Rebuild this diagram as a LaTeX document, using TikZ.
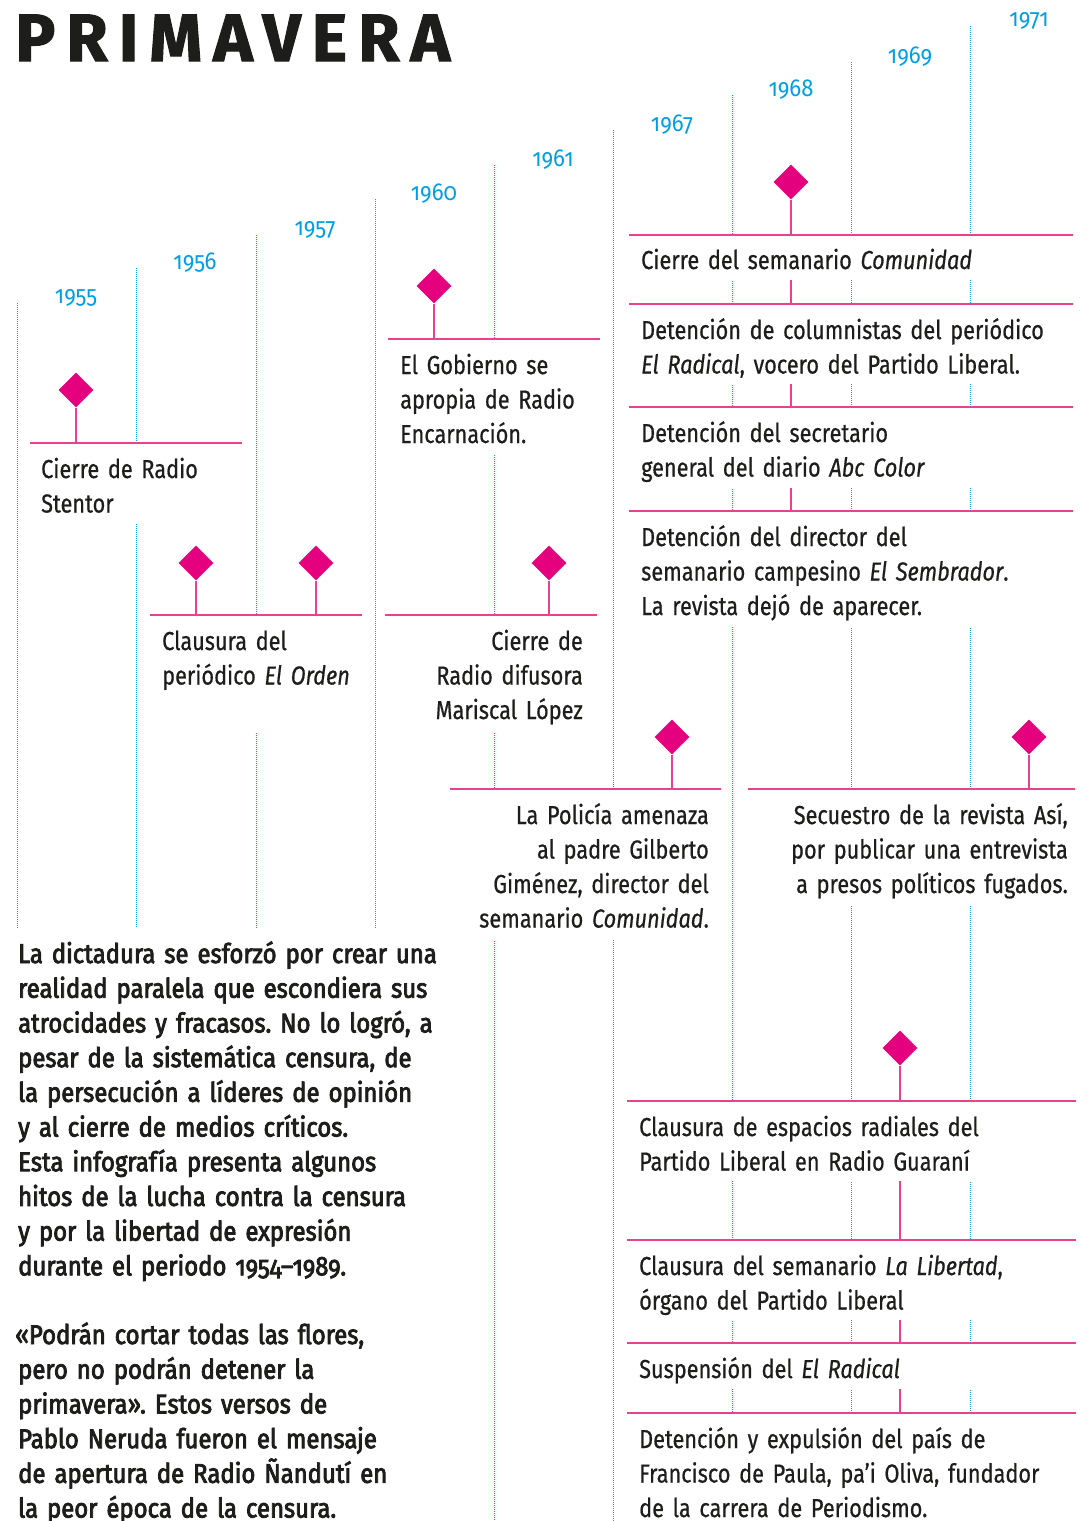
\documentclass[tikz,border=0pt]{standalone}
\usepackage{fontspec}
\setmainfont{Fira Sans}[FakeStretch=0.835, FakeBold=0.6, Numbers=OldStyle]
\newfontfamily\titlefont{Fira Sans}[LetterSpace=16.5, FakeBold=1.5]
\newfontfamily\leadfont{Fira Sans}[FakeStretch=0.885, FakeBold=3, Numbers=OldStyle]
\newfontfamily\yearfont{Fira Sans}[FakeStretch=0.9, Numbers=OldStyle]
\frenchspacing
\usepackage{tikz}
\usetikzlibrary{positioning}
\usetikzlibrary{calc}
\usetikzlibrary{shapes.geometric}
\definecolor{inkgray}{HTML}{1D1D1B}
\definecolor{yearblue}{HTML}{009FE3}
\definecolor{hitopink}{HTML}{E5007D}
\definecolor{rulepink}{HTML}{E8418F}
\tikzstyle{guide} = [draw=yearblue, line width=1pt, dash pattern=on 1pt off 1pt]
\tikzstyle{rule} = [draw=rulepink, line width=1.8pt]
\tikzstyle{stem} = [draw=rulepink, line width=1.8pt]
\tikzstyle{hito} = [diamond, fill=hitopink, inner sep=0pt, minimum width=35pt, minimum height=35pt]
\tikzstyle{mask} = [fill=white, inner sep=0pt, outer sep=0pt, anchor=north west]
\tikzstyle{year} = [text=yearblue, inner sep=0pt, font=\yearfont\fontsize{24.5}{24.5}\selectfont]
\tikzstyle{evtxt} = [text=inkgray, inner sep=0pt, text width=480pt, font=\fontsize{26}{34.5}\selectfont]
\tikzstyle{evleft} = [evtxt, align=left, anchor=base west]
\tikzstyle{evright} = [evtxt, align=right, anchor=base east]
\tikzstyle{lead} = [text=inkgray, inner sep=0pt, text width=440pt, align=left, anchor=base west, font=\leadfont\fontsize{27}{34.7}\selectfont]

\begin{document}
\begin{tikzpicture}[x=1pt,y=-1pt]
    \useasboundingbox (0,0) rectangle (1081,1521);
    % year guides
    \coordinate (low) at (0,928);
    \coordinate (bot) at (0,1521);
    \coordinate (g1) at (17,303);
    \coordinate (g2) at (136,268);
    \coordinate (g3) at (256,235);
    \coordinate (g4) at (375,199);
    \coordinate (g5) at (494,165);
    \coordinate (g6) at (613,130);
    \coordinate (g7) at (732,95);
    \coordinate (g8) at (851,62);
    \coordinate (g9) at (970,26);
    \draw [guide] (g1) -- (g1 |- low);
    \draw [guide] (g2) -- (g2 |- low);
    \draw [guide] (g3) -- (g3 |- low);
    \draw [guide] (g4) -- (g4 |- low);
    \draw [guide] (g5) -- (g5 |- bot);
    \draw [guide] (g6) -- (g6 |- bot);
    \draw [guide] (g7) -- (g7 |- bot);
    \draw [guide] (g8) -- (g8 |- bot);
    \draw [guide] (g9) -- (g9 |- bot);

    \node [year] (y1955) at ($(g1)+(59,-5)$) {1955};
    \node [year] (y1956) at ($(g2)+(59,-5)$) {1956};
    \node [year] (y1957) at ($(g3)+(59,-5)$) {1957};
    \node [year] (y1960) at ($(g4)+(59,-5)$) {1960};
    \node [year] (y1961) at ($(g5)+(59,-5)$) {1961};
    \node [year] (y1967) at ($(g6)+(59,-5)$) {1967};
    \node [year] (y1968) at ($(g7)+(59,-5)$) {1968};
    \node [year] (y1969) at ($(g8)+(59,-5)$) {1969};
    \node [year] (y1971) at ($(g9)+(59,-5)$) {1971};

    % event lines
    \coordinate (r1) at (30,443);
    \coordinate (r2) at (150,615);
    \coordinate (r3) at (388,339);
    \coordinate (r4) at (385,615);
    \coordinate (r5) at (450,789);
    \coordinate (r6) at (748,789);
    \coordinate (r7a) at (629,235);
    \coordinate (r7b) at (629,304);
    \coordinate (r7c) at (629,407);
    \coordinate (r7d) at (629,511);
    \coordinate (r8a) at (627,1101);
    \coordinate (r8b) at (627,1240);
    \coordinate (r8c) at (627,1343);
    \coordinate (r8d) at (627,1413);

    \node [hito] (d1) at (76,390) {};
    \node [hito] (d2a) at (196,563) {};
    \node [hito] (d2b) at (316,563) {};
    \node [hito] (d3) at (434,286) {};
    \node [hito] (d4) at (549,563) {};
    \node [hito] (d5) at (672,737) {};
    \node [hito] (d6) at (1029,737) {};
    \node [hito] (d7) at (791,182) {};
    \node [hito] (d8) at (900,1048) {};

    \draw [stem] (d1.south) -- (d1 |- r1);
    \draw [stem] (d2a.south) -- (d2a |- r2);
    \draw [stem] (d2b.south) -- (d2b |- r2);
    \draw [stem] (d3.south) -- (d3 |- r3);
    \draw [stem] (d4.south) -- (d4 |- r4);
    \draw [stem] (d5.south) -- (d5 |- r5);
    \draw [stem] (d6.south) -- (d6 |- r6);
    \draw [stem] (d7.south) -- (d7 |- r7d);
    \draw [stem] (d8.south) -- (d8 |- r8d);

    % white panels under the lines
    \node [mask, minimum width=212, minimum height=80] (m1) at (r1) {};
    \node [mask, minimum width=212, minimum height=117] (m2) at (r2) {};
    \node [mask, minimum width=212, minimum height=116] (m3) at (r3) {};
    \node [mask, minimum width=212, minimum height=117] (m4) at (r4) {};
    \node [mask, minimum width=271, minimum height=151] (m5) at (r5) {};
    \node [mask, minimum width=327, minimum height=116] (m6) at (r6) {};
    \node [mask, minimum width=444, minimum height=45] (m7a) at (r7a) {};
    \node [mask, minimum width=444, minimum height=80] (m7b) at (r7b) {};
    \node [mask, minimum width=444, minimum height=81] (m7c) at (r7c) {};
    \node [mask, minimum width=444, minimum height=116] (m7d) at (r7d) {};
    \node [mask, minimum width=449, minimum height=80] (m8a) at (r8a) {};
    \node [mask, minimum width=449, minimum height=80] (m8b) at (r8b) {};
    \node [mask, minimum width=449, minimum height=46] (m8c) at (r8c) {};
    \node [mask, minimum width=449, minimum height=108] (m8d) at (r8d) {};

    \draw [rule] (m1.north west) -- (m1.north east);
    \draw [rule] (m2.north west) -- (m2.north east);
    \draw [rule] (m3.north west) -- (m3.north east);
    \draw [rule] (m4.north west) -- (m4.north east);
    \draw [rule] (m5.north west) -- (m5.north east);
    \draw [rule] (m6.north west) -- (m6.north east);
    \draw [rule] (m7a.north west) -- (m7a.north east);
    \draw [rule] (m7b.north west) -- (m7b.north east);
    \draw [rule] (m7c.north west) -- (m7c.north east);
    \draw [rule] (m7d.north west) -- (m7d.north east);
    \draw [rule] (m8a.north west) -- (m8a.north east);
    \draw [rule] (m8b.north west) -- (m8b.north east);
    \draw [rule] (m8c.north west) -- (m8c.north east);
    \draw [rule] (m8d.north west) -- (m8d.north east);

    % event texts
    \node [evleft] (t1) at ($(m1.north west)+(11,35)$) {Cierre de Radio\\Stentor};
    \node [evleft] (t2) at ($(m2.north west)+(12,35)$) {Clausura del\\periódico \textit{El Orden}};
    \node [evleft] (t3) at ($(m3.north west)+(12,35)$) {El Gobierno se\\apropia de Radio\\Encarnación.};
    \node [evright] (t4) at ($(m4.north east)+(-14,35)$) {Cierre de\\Radio difusora\\Mariscal López};
    \node [evright] (t5) at ($(m5.north east)+(-12,35)$) {La Policía amenaza\\al padre Gilberto\\Giménez, director del\\semanario \textit{Comunidad}.};
    \node [evright] (t6) at ($(m6.north east)+(-7,35)$) {Secuestro de la revista Así,\\por publicar una entrevista\\a presos políticos fugados.};
    \node [evleft] (t7a) at ($(m7a.north west)+(12,34)$) {Cierre del semanario \textit{Comunidad}};
    \node [evleft] (t7b) at ($(m7b.north west)+(12,35)$) {Detención de columnistas del periódico\\\textit{El Radical}, vocero del Partido Liberal.};
    \node [evleft] (t7c) at ($(m7c.north west)+(12,35)$) {Detención del secretario\\general del diario \textit{Abc Color}};
    \node [evleft] (t7d) at ($(m7d.north west)+(12,35)$) {Detención del director del\\semanario campesino \textit{El Sembrador}.\\La revista dejó de aparecer.};
    \node [evleft] (t8a) at ($(m8a.north west)+(12,35)$) {Clausura de espacios radiales del\\Partido Liberal en Radio Guaraní};
    \node [evleft] (t8b) at ($(m8b.north west)+(12,35)$) {Clausura del semanario \textit{La Libertad},\\órgano del Partido Liberal};
    \node [evleft] (t8c) at ($(m8c.north west)+(12,35)$) {Suspensión del \textit{El Radical}};
    \node [evleft] (t8d) at ($(m8d.north west)+(12,35)$) {Detención y expulsión del país de\\Francisco de Paula, pa’i Oliva, fundador\\de la carrera de Periodismo.};

    % title and lead
    \node [anchor=base west, inner sep=0pt, text=inkgray, font=\titlefont\bfseries\fontsize{67}{67}\selectfont] (title) at (15,61) {PRIMAVERA};
    \node [lead] (intro) at (18,963) {La dictadura se esforzó por crear una\\realidad paralela que escondiera sus\\atrocidades y fracasos. No lo logró, a\\pesar de la sistemática censura, de\\la persecución a líderes de opinión\\y al cierre de medios críticos.\\Esta infografía presenta algunos\\hitos de la lucha contra la censura\\y por la libertad de expresión\\durante el periodo 1954–1989.};
    \node [lead] (verso) at (18,1344) {\hspace*{-3pt}«Podrán cortar todas las flores,\\pero no podrán detener la\\primavera». Estos versos de\\Pablo Neruda fueron el mensaje\\de apertura de Radio Ñandutí en\\la peor época de la censura.};
\end{tikzpicture}
\end{document}
